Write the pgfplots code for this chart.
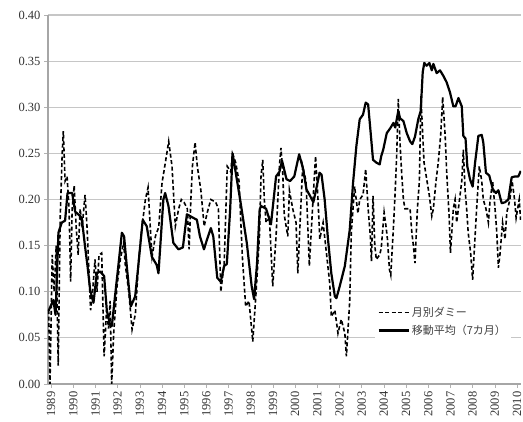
\documentclass[border=0pt]{standalone}
\usepackage{pgfplots}
\pgfplotsset{compat=1.18}
\usepackage{fontspec}
\setmainfont{Liberation Serif}
\newfontfamily\jp{Noto Sans CJK JP}

\begin{document}
\begin{tikzpicture}
\useasboundingbox (-48pt,-38pt) rectangle (475pt,384pt);
\begin{axis}[
  at={(0,0)}, anchor=south west,
  scale only axis,
  width=473pt, height=369pt,
  xmin=1988.86, xmax=2010.18,
  ymin=0, ymax=0.40,
  axis x line=bottom, axis y line=left,
  axis line style={-, draw=gray!70, line width=1.2pt},
  xtick={1989,...,2010},
  minor x tick num=11,
  ytick={0,0.05,...,0.40},
  tick align=outside,
  major tick length=4pt, minor tick length=4pt,
  tick style={draw=gray!60, line width=0.5pt},
  ymajorgrids,
  grid style={draw=gray!45, line width=1.2pt},
  xticklabel style={rotate=90, anchor=east, font=\fontsize{12.5}{13}\selectfont, text=black!80, /pgf/number format/1000 sep={}},
  yticklabel style={font=\fontsize{12.5}{13}\selectfont, text=black!80, /pgf/number format/.cd, fixed, fixed zerofill, precision=2},
  /pgf/number format/assume math mode=true,
  x tick label style={/pgf/number format/1000 sep={}},
  legend style={at={(0.69,0.222)}, anchor=north west, draw=none, fill=white,
    font=\jp\fontsize{11}{12.5}\selectfont, text=black!75, row sep=3pt, inner sep=3pt},
  legend cell align=left,
  legend image code/.code={\draw[#1] (0pt,0pt) -- (30pt,0pt);},
]
\addplot[black, line width=1.6pt, dash pattern=on 4pt off 2.5pt] coordinates {
(1988.89,0.08) (1988.95,0.00) (1989.05,0.14) (1989.14,0.10) (1989.23,0.15) (1989.32,0.02)
(1989.41,0.18) (1989.50,0.25) (1989.55,0.274) (1989.63,0.22) (1989.72,0.225) (1989.81,0.19)
(1989.88,0.111) (1989.95,0.19) (1990.04,0.215) (1990.13,0.17) (1990.22,0.14) (1990.31,0.19)
(1990.40,0.17) (1990.53,0.205) (1990.62,0.17) (1990.71,0.12) (1990.78,0.08) (1990.87,0.10)
(1990.98,0.135) (1991.07,0.10) (1991.16,0.14) (1991.28,0.142) (1991.39,0.03) (1991.50,0.08)
(1991.59,0.06) (1991.66,0.09) (1991.73,0.00) (1991.82,0.055) (1991.97,0.106) (1992.12,0.135)
(1992.27,0.153) (1992.34,0.13) (1992.50,0.10) (1992.65,0.059) (1992.80,0.076) (1992.95,0.135)
(1993.10,0.171) (1993.25,0.20) (1993.37,0.213) (1993.47,0.17) (1993.55,0.138) (1993.70,0.16)
(1993.85,0.17) (1994.00,0.218) (1994.15,0.24) (1994.30,0.263) (1994.45,0.236) (1994.60,0.171)
(1994.75,0.19) (1994.87,0.20) (1994.99,0.197) (1995.14,0.19) (1995.22,0.146) (1995.30,0.20)
(1995.37,0.236) (1995.49,0.262) (1995.59,0.236) (1995.75,0.21) (1995.90,0.171) (1996.04,0.186)
(1996.20,0.20) (1996.42,0.197) (1996.54,0.19) (1996.65,0.10) (1996.80,0.13) (1996.94,0.236)
(1997.10,0.23) (1997.17,0.25) (1997.32,0.24) (1997.47,0.22) (1997.62,0.138) (1997.77,0.084)
(1997.92,0.09) (1998.09,0.046) (1998.24,0.10) (1998.39,0.16) (1998.46,0.225) (1998.54,0.243)
(1998.61,0.20) (1998.69,0.175) (1998.84,0.18) (1998.99,0.106) (1999.14,0.16) (1999.29,0.236)
(1999.36,0.256) (1999.44,0.23) (1999.51,0.183) (1999.67,0.16) (1999.74,0.21) (1999.89,0.19)
(2000.04,0.175) (2000.12,0.12) (2000.27,0.20) (2000.34,0.236) (2000.49,0.22) (2000.64,0.128)
(2000.79,0.193) (2000.92,0.247) (2001.03,0.20) (2001.11,0.157) (2001.26,0.175) (2001.41,0.142)
(2001.56,0.109) (2001.63,0.073) (2001.79,0.08) (2001.93,0.055) (2002.08,0.07) (2002.24,0.055)
(2002.31,0.03) (2002.46,0.09) (2002.53,0.164) (2002.68,0.214) (2002.83,0.185) (2002.91,0.20)
(2003.06,0.205) (2003.18,0.233) (2003.29,0.19) (2003.39,0.16) (2003.44,0.133) (2003.51,0.204)
(2003.59,0.15) (2003.66,0.135) (2003.81,0.14) (2003.88,0.147) (2004.01,0.186) (2004.10,0.17)
(2004.16,0.157) (2004.25,0.124) (2004.31,0.118) (2004.43,0.17) (2004.50,0.204) (2004.58,0.25)
(2004.65,0.309) (2004.73,0.26) (2004.80,0.229) (2004.88,0.20) (2004.95,0.19) (2005.06,0.19)
(2005.18,0.19) (2005.26,0.164) (2005.33,0.15) (2005.40,0.131) (2005.51,0.19) (2005.60,0.22)
(2005.67,0.312) (2005.75,0.27) (2005.81,0.24) (2005.93,0.222) (2006.05,0.204) (2006.16,0.182)
(2006.23,0.19) (2006.35,0.22) (2006.45,0.24) (2006.56,0.27) (2006.65,0.311) (2006.76,0.27)
(2006.83,0.23) (2006.94,0.182) (2007.00,0.142) (2007.13,0.19) (2007.21,0.20) (2007.28,0.175)
(2007.41,0.20) (2007.51,0.22) (2007.58,0.254) (2007.66,0.21) (2007.73,0.19) (2007.80,0.164)
(2007.91,0.142) (2008.00,0.113) (2008.11,0.16) (2008.18,0.19) (2008.30,0.236) (2008.41,0.22)
(2008.48,0.20) (2008.60,0.19) (2008.71,0.175) (2008.78,0.197) (2008.90,0.22) (2009.01,0.19)
(2009.09,0.164) (2009.16,0.126) (2009.23,0.14) (2009.35,0.175) (2009.46,0.157) (2009.54,0.186)
(2009.68,0.20) (2009.78,0.22) (2009.89,0.20) (2009.96,0.18) (2010.10,0.20) (2010.16,0.178)
};
\addlegendentry{月別ダミー}
\addplot[black, line width=2.2pt, line join=round] coordinates {
(1988.88,0.079) (1989.10,0.091) (1989.20,0.075) (1989.33,0.164) (1989.48,0.175) (1989.63,0.177)
(1989.74,0.207) (1989.95,0.207) (1990.08,0.187) (1990.31,0.182) (1990.38,0.180) (1990.53,0.149)
(1990.64,0.128) (1990.76,0.102) (1990.91,0.088) (1991.06,0.12) (1991.21,0.122) (1991.39,0.117)
(1991.51,0.08) (1991.66,0.064) (1991.74,0.063) (1991.88,0.095) (1992.03,0.128) (1992.19,0.164)
(1992.29,0.160) (1992.41,0.128) (1992.59,0.084) (1992.79,0.095) (1992.93,0.128) (1993.13,0.178)
(1993.31,0.171) (1993.54,0.138) (1993.76,0.129) (1993.84,0.120) (1994.06,0.20) (1994.14,0.207)
(1994.29,0.193) (1994.51,0.153) (1994.74,0.146) (1994.94,0.148) (1995.12,0.184) (1995.34,0.181)
(1995.57,0.178) (1995.71,0.160) (1995.89,0.146) (1996.02,0.156) (1996.20,0.169) (1996.31,0.160)
(1996.49,0.115) (1996.65,0.111) (1996.80,0.128) (1996.92,0.130) (1997.07,0.189) (1997.18,0.250)
(1997.37,0.222) (1997.52,0.200) (1997.82,0.153) (1998.04,0.106) (1998.15,0.092) (1998.28,0.13)
(1998.40,0.189) (1998.46,0.193) (1998.69,0.190) (1998.91,0.173) (1999.14,0.225) (1999.29,0.230)
(1999.41,0.242) (1999.61,0.222) (1999.77,0.220) (1999.96,0.225) (2000.18,0.249) (2000.36,0.233)
(2000.51,0.211) (2000.67,0.204) (2000.82,0.197) (2000.94,0.21) (2001.10,0.229) (2001.19,0.227)
(2001.33,0.200) (2001.48,0.157) (2001.63,0.12) (2001.79,0.095) (2001.86,0.093) (2002.01,0.106)
(2002.24,0.128) (2002.46,0.167) (2002.61,0.218) (2002.76,0.258) (2002.91,0.287) (2003.06,0.292)
(2003.18,0.305) (2003.29,0.303) (2003.39,0.276) (2003.51,0.243) (2003.66,0.240) (2003.81,0.238)
(2003.88,0.247) (2003.97,0.254) (2004.13,0.272) (2004.28,0.277) (2004.43,0.283) (2004.51,0.278)
(2004.65,0.296) (2004.73,0.288) (2004.88,0.285) (2005.03,0.272) (2005.18,0.263) (2005.28,0.260)
(2005.40,0.268) (2005.55,0.287) (2005.66,0.296) (2005.75,0.338) (2005.82,0.348) (2005.93,0.345)
(2006.05,0.348) (2006.16,0.340) (2006.23,0.347) (2006.38,0.337) (2006.53,0.340) (2006.68,0.334)
(2006.83,0.327) (2006.98,0.316) (2007.13,0.301) (2007.23,0.301) (2007.36,0.310) (2007.51,0.301)
(2007.58,0.269) (2007.68,0.266) (2007.76,0.236) (2007.88,0.222) (2008.00,0.214) (2008.11,0.240)
(2008.26,0.269) (2008.41,0.270) (2008.48,0.262) (2008.60,0.229) (2008.75,0.226) (2008.91,0.211)
(2009.05,0.207) (2009.16,0.210) (2009.31,0.196) (2009.46,0.197) (2009.61,0.200) (2009.76,0.224)
(2009.91,0.225) (2010.06,0.225) (2010.17,0.231)
};
\addlegendentry{移動平均（7カ月）}
\end{axis}
\end{tikzpicture}
\end{document}
